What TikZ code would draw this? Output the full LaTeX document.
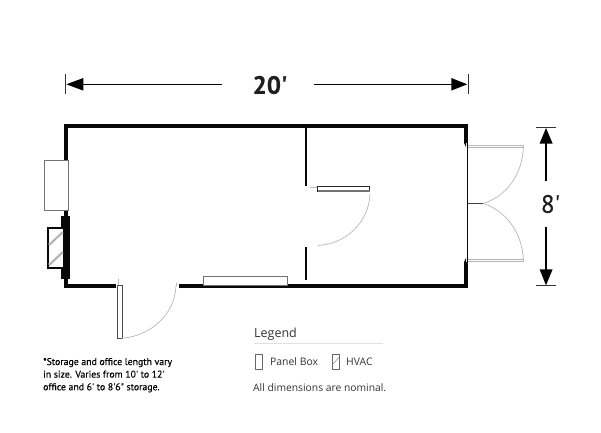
\documentclass[tikz,border=0pt]{standalone}
\usepackage{fontspec}
\setmainfont[Ligatures=NoCommon]{Open Sans}
\newfontfamily\notefont[FakeBold=0.35]{PT Sans}
\newfontfamily\dimfont[FakeBold=0.5]{PT Sans}
\newcommand{\ftmark}{\char"0027\relax}
\newcommand{\inmark}{\char"0022\relax}
\definecolor{wallc}{gray}{0.03}
\definecolor{edgec}{gray}{0.45}
\definecolor{arcc}{gray}{0.72}
\tikzset{
  wall/.style={draw=wallc,line width=4pt,line cap=butt,miter limit=10},
  thin wall/.style={draw=wallc,line width=2pt},
  panel/.style={draw=edgec,line width=1pt,fill=white},
  swing/.style={draw=arcc,line width=0.7pt},
  dim/.style={draw=black,line width=1.1pt},
  tick/.style={draw=black!80,line width=0.8pt},
  head/.style={fill=black,draw=none},
  label/.style={inner sep=0pt,anchor=base west,text=black!80},
  bigdim/.style={inner sep=0pt,text=black!88},
  diag/.style={draw=gray!70,line width=1.2pt},
  diagsoft/.style={draw=gray!22,line width=3pt},
}
\begin{document}
\begin{tikzpicture}[x=1pt,y=-1pt]
\useasboundingbox[fill=white] (0,0) rectangle (601,432);
% outer walls
\draw[wall] (116,285.5) -- (66,285.5) -- (66,125.5) -- (466,125.5) -- (466,143);
\draw[wall] (179,285.5) -- (466,285.5) -- (466,262);
\fill[wallc] (464,143) -- (466,147) -- (466,143) -- cycle;
\fill[wallc] (464,262) -- (466,258) -- (466,262) -- cycle;
\draw[draw=wallc,line width=1pt] (467.5,141) -- (467.5,264);
% left window
\draw[panel] (44.3,160) rectangle (68.3,210);
% black block and HVAC
\fill[wallc] (61,216) rectangle (70.3,279.3);
\draw[draw=wallc,line width=1.7pt,fill=white] (47.8,227.8) rectangle (64,268);
\begin{scope}
\clip (48.6,228.6) rectangle (63.2,267.2);
\draw[diagsoft] (49,245) -- (63,232);
\draw[diagsoft] (49,265) -- (63,252);
\draw[diag] (49,245) -- (63,232);
\draw[diag] (49,265) -- (63,252);
\end{scope}
% bottom-left door
\draw[panel,draw=black!70] (117.6,285.7) rectangle (122,338.3);
\draw[swing] (122,338.3) .. controls (150,336) and (175,315) .. (176,285.7);
\draw[swing] (118,279) -- (118,285);
\draw[swing] (176,282.5) -- (176,285.7);
% interior partition
\draw[thin wall] (305.7,127) -- (305.7,185.7);
\draw[thin wall] (305.7,246.7) -- (305.7,280);
\draw[panel,draw=black!85] (317.5,186.6) rectangle (369.8,191);
\draw[draw=edgec,line width=1.2pt] (317.5,191) -- (369.8,191);
\draw[swing] (310,187.5) -- (317,187.5);
\draw[swing] (370,194) .. controls (369,222) and (346,244) .. (318,245.5);
% bottom window
\draw[panel] (203.5,276.4) rectangle (287.6,285.5);
% double doors
\draw[draw=arcc,line width=0.8pt] (468,145.2) -- (523.3,145.2) -- (523.3,148);
\draw[draw=gray!60,line width=0.9pt] (468,147.4) -- (523.3,147.4);
\draw[draw=arcc,line width=0.8pt] (468,261.6) -- (523.3,261.6) -- (523.3,258);
\draw[draw=gray!60,line width=0.9pt] (468,259.6) -- (523.3,259.6);
\draw[swing] (523.3,148) .. controls (522,176) and (505,197) .. (483,203.5);
\draw[swing] (523.3,259) .. controls (522,232) and (505,210) .. (483,203.5);
\draw[draw=black!75,line width=0.8pt] (468,203.6) -- (483,203.6);
% 20' dimension
\coordinate (wl) at (65.5,84.3);
\coordinate (wr) at (468,84.3);
\draw[tick] (65.5,74.3) -- (65.5,94);
\draw[tick] (468,74.3) -- (468,94);
\draw[dim] (83,84.3) -- (222.3,84.3);
\draw[dim] (314,84.3) -- (452,84.3);
\fill[head] (wl) ++(0.8,0) -- (83.3,78) -- (83.3,90.6) -- cycle;
\fill[head] (wr) ++(-0.8,0) -- (451.3,78) -- (451.3,90.6) -- cycle;
\node[bigdim,font=\dimfont\bfseries\fontsize{25}{25}\selectfont] (wlab) at (270,85) {20\ftmark};
% 8' dimension
\coordinate (ht) at (546,128);
\coordinate (hb) at (546,285.3);
\draw[tick,line width=1pt] (536,127.7) -- (556,127.7);
\draw[tick,line width=1pt] (536,285.3) -- (556,285.3);
\draw[dim] (546,143) -- (546,181);
\draw[dim] (546,226.7) -- (546,270);
\fill[head] (ht) -- (539.6,143.5) -- (552.6,143.5) -- cycle;
\fill[head] (hb) -- (539.6,269.3) -- (552.6,269.3) -- cycle;
\node[bigdim,font=\dimfont\fontsize{25}{25}\selectfont] (hlab) at (550.5,204) {8\ftmark};
% legend
\node[label,font=\fontsize{12.5}{14}\selectfont] (leg) at (254,337) {Legend};
\draw[draw=black!12,line width=0.7pt] (254,343.4) -- (383,343.4);
\draw[draw=black!60,line width=0.7pt] (255.5,354.5) rectangle (262,369);
\node[label,font=\fontsize{10.4}{12}\selectfont] (pb) at (270,365.7) {Panel Box};
\draw[draw=black!60,line width=0.7pt] (332.5,354.5) rectangle (339.3,369);
\draw[draw=black!45,line width=0.5pt] (332.5,364.5) -- (339.3,357);
\node[label,font=\fontsize{10.4}{12}\selectfont] (hv) at (346,365.7) {HVAC};
\node[label,font=\fontsize{10.3}{12}\selectfont] (nom) at (253,391.2) {All dimensions are nominal.};
% footnote
\node[label,text=black,font=\notefont\fontsize{9.8}{12}\selectfont] (n1) at (43,365) {*Storage and office length vary};
\node[label,text=black,font=\notefont\fontsize{9.8}{12}\selectfont] (n2) at (43,377.6) {in size. Varies from 10\ftmark{} to 12\ftmark};
\node[label,text=black,font=\notefont\fontsize{9.8}{12}\selectfont] (n3) at (43,390.2) {office and 6\ftmark{} to 8\ftmark 6\inmark{} storage.};
\end{tikzpicture}
\end{document}
